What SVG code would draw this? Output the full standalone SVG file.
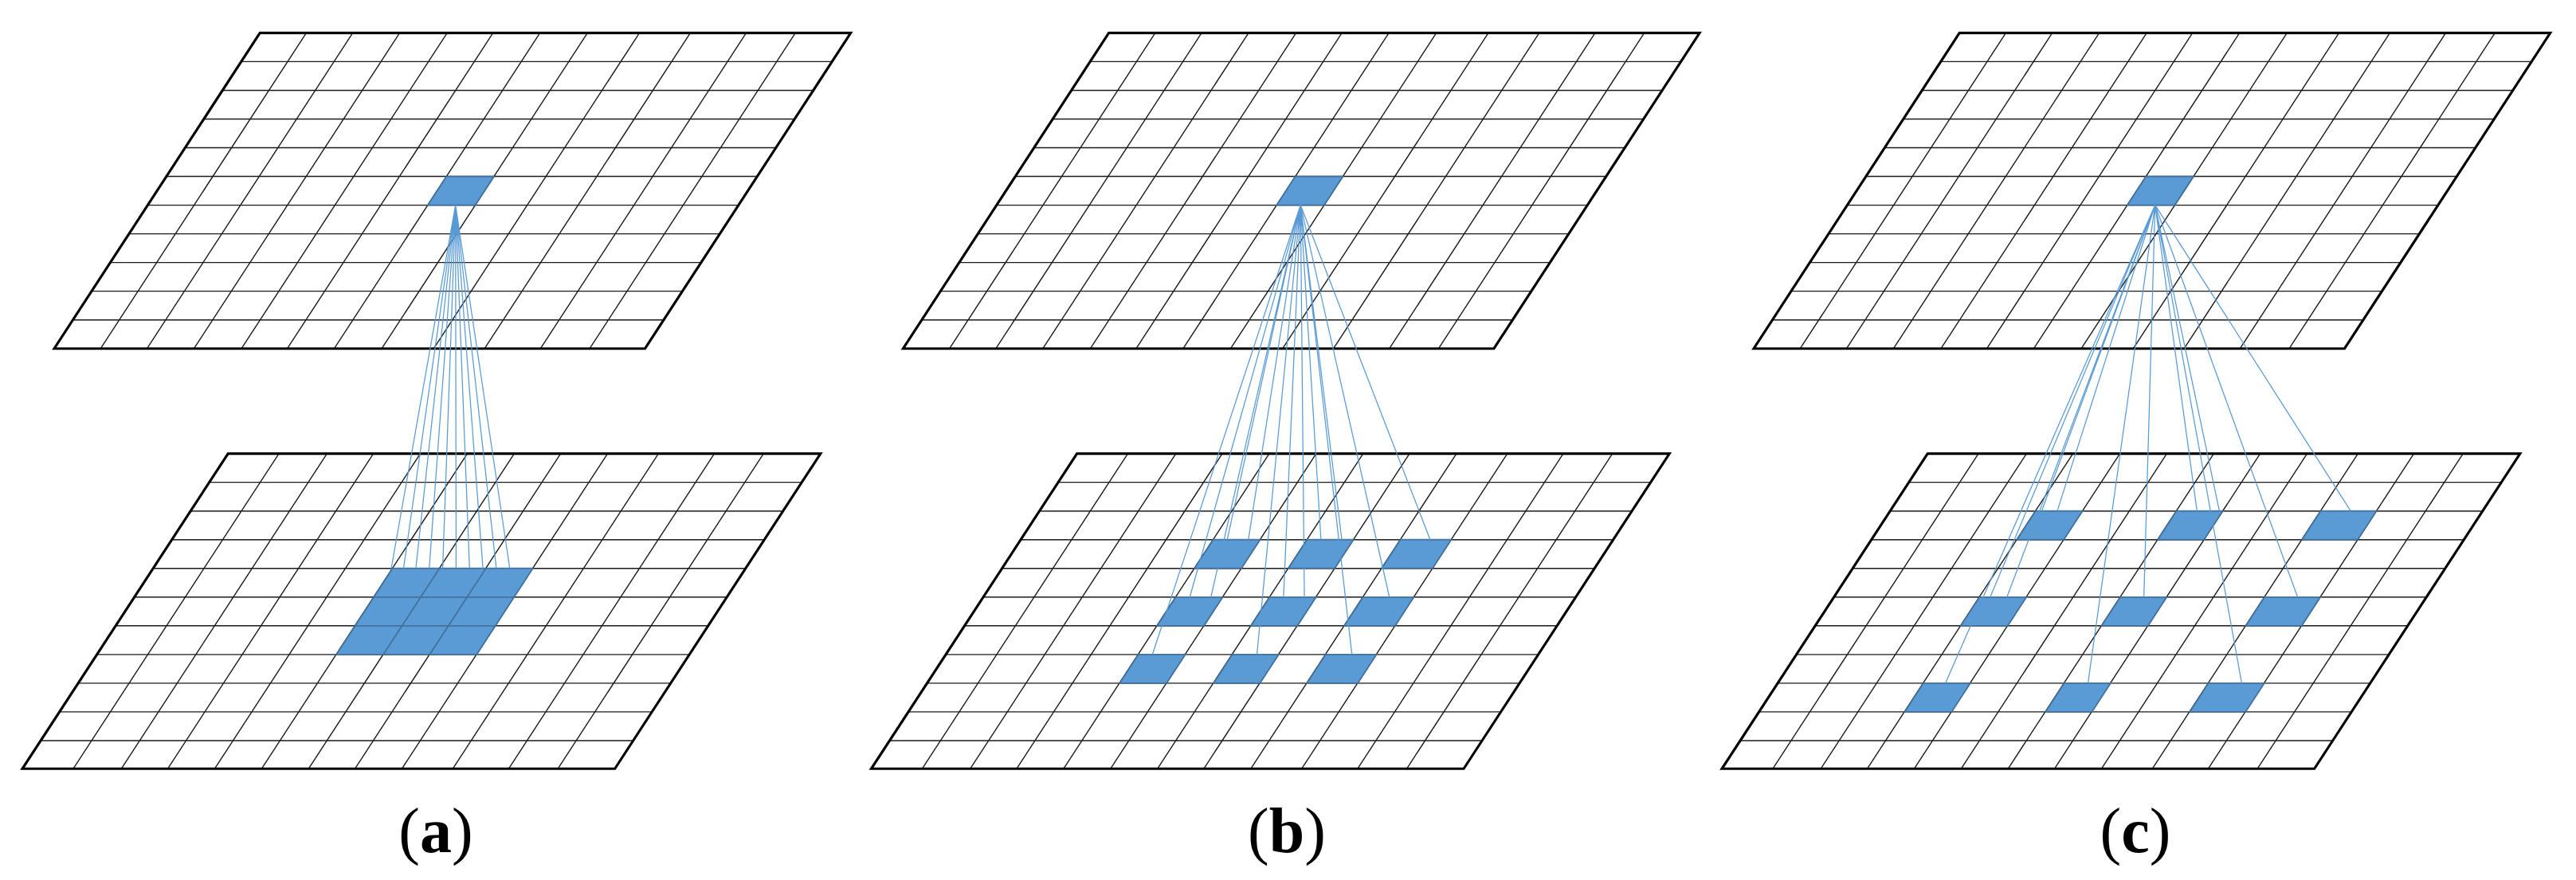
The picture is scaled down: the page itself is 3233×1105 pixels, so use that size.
<svg xmlns="http://www.w3.org/2000/svg" xmlns:xlink="http://www.w3.org/1999/xlink" width="3233" height="1105" viewBox="0 0 3233 1105">
<style>
.frame{fill:none;stroke:#000;stroke-width:4.5;stroke-linejoin:miter}
.in{stroke:#1a1a1a;stroke-width:2}
.cell{fill:#5B9BD5;stroke:#41719C;stroke-width:2.5}
.conn{stroke:#5B9BD5;stroke-width:1.8;fill:none}
.lbl{font-family:"Liberation Serif",serif;font-size:80px;text-anchor:middle;fill:#000}
</style>
<defs>
<g id="gridT">
<path class="in" d="M83,0L-285,565M166,0L-202,565M250,0L-118,565M335,0L-33,565M417,0L49,565M501,0L133,565M586,0L218,565M679,0L311,565M770,0L402,565M870,0L502,565M958,0L590,565
M-33.45,51.36H1023.55M-66.9,102.73H990.1M-100.35,154.09H956.65M-133.8,205.45H923.2M-167.25,256.82H889.75M-200.7,308.18H856.3M-234.15,359.55H822.85M-267.6,410.91H789.4M-301.05,462.27H755.95M-334.5,513.64H722.5"/>
<polygon class="frame" points="0,0 1057,0 689,565 -368,565"/>
</g>
<g id="gridB">
<path class="in" d="M91,0L-277,564M177,0L-191,564M260,0L-108,564M344,0L-24,564M428,0L60,564M512,0L144,564M595,0L227,564M679,0L311,564M770,0L402,564M870,0L502,564M958,0L590,564
M-33.45,51.36H1026.55M-66.9,102.73H993.1M-100.35,154.09H959.65M-133.8,205.45H926.2M-167.25,256.82H892.75M-200.7,308.18H859.3M-234.15,359.55H825.85M-267.6,410.91H792.4M-301.05,462.27H758.95M-334.5,513.64H725.5"/>
<polygon class="frame" points="0,0 1060,0 692,564 -368,564"/>
</g>
<polygon id="topcell" class="cell" points="798.7,315.8 883.7,315.8 850.3,367.2 765.3,367.2"/>
</defs>

<g id="panel-a" transform="scale(0.7015)">
<g id="a-top"><use xlink:href="#gridT" transform="translate(465,59)"/><use xlink:href="#topcell"/></g>
<g id="a-bottom"><use xlink:href="#gridB" transform="translate(408,812)"/>
<polygon class="cell" points="702.2,1017.45 953.2,1017.45 852.85,1171.5 601.85,1171.5"/>
<path stroke="#41719C" stroke-width="2.5" d="M786.2,1017.45L685.85,1171.5M869.2,1017.45L768.85,1171.5M668.7,1068.8H919.7M635.3,1120.2H886.3"/>
</g>
<g id="a-connectors" class="conn">
<path d="M815,367L700,1017.45M815,367L722,1017.45M815,367L744,1017.45M815,367L768,1017.45M815,367L792,1017.45M815,367L816,1017.45M815,367L840,1017.45M815,367L864,1017.45M815,367L888,1017.45M815,367L912,1017.45"/>
</g>
</g>

<g id="panel-b" transform="translate(1065.4,0) scale(0.7015)">
<g id="b-top"><use xlink:href="#gridT" transform="translate(465,59)"/><use xlink:href="#topcell"/></g>
<g id="b-bottom"><use xlink:href="#gridB" transform="translate(408,812)"/>
<polygon class="cell" points="651.65,966.08 735.65,966.08 702.2,1017.45 618.2,1017.45"/>
<polygon class="cell" points="819.65,966.08 902.65,966.08 869.2,1017.45 786.2,1017.45"/>
<polygon class="cell" points="986.65,966.08 1077.65,966.08 1044.2,1017.45 953.2,1017.45"/>
<polygon class="cell" points="584.7,1068.8 668.7,1068.8 635.3,1120.2 551.3,1120.2"/>
<polygon class="cell" points="752.7,1068.8 835.7,1068.8 802.3,1120.2 719.3,1120.2"/>
<polygon class="cell" points="919.7,1068.8 1010.7,1068.8 977.3,1120.2 886.3,1120.2"/>
<polygon class="cell" points="517.85,1171.5 601.85,1171.5 568.4,1222.9 484.4,1222.9"/>
<polygon class="cell" points="685.85,1171.5 768.85,1171.5 735.4,1222.9 652.4,1222.9"/>
<polygon class="cell" points="852.85,1171.5 943.85,1171.5 910.4,1222.9 819.4,1222.9"/>
</g>
<g id="b-connectors" class="conn">
<path d="M808,367L676.9,966.08M808,367L714.7,966.08M808,367L844.6,966.08M808,367L881.9,966.08M808,367L1040,966.08
M808,367L609.9,1068.8M808,367L647.7,1068.8M808,367L777.6,1068.8M808,367L814.9,1068.8M808,367L967,1068.8
M808,367L543.1,1171.5M808,367L730,1171.5M808,367L900,1171.5"/>
</g>
</g>

<g id="panel-c" transform="translate(2133,0) scale(0.7015)">
<g id="c-top"><use xlink:href="#gridT" transform="translate(465,59)"/><use xlink:href="#topcell"/></g>
<g id="c-bottom"><use xlink:href="#gridB" transform="translate(408,812)"/>
<polygon class="cell" points="601.1,914.7 685.1,914.7 651.65,966.08 567.65,966.08"/>
<polygon class="cell" points="853.1,914.7 936.1,914.7 902.65,966.08 819.65,966.08"/>
<polygon class="cell" points="1111.1,914.7 1211.1,914.7 1177.65,966.08 1077.65,966.08"/>
<polygon class="cell" points="500.7,1068.8 584.7,1068.8 551.3,1120.2 467.3,1120.2"/>
<polygon class="cell" points="752.7,1068.8 835.7,1068.8 802.3,1120.2 719.3,1120.2"/>
<polygon class="cell" points="1010.7,1068.8 1110.7,1068.8 1077.3,1120.2 977.3,1120.2"/>
<polygon class="cell" points="400.4,1222.9 484.4,1222.9 451,1274.3 367,1274.3"/>
<polygon class="cell" points="652.4,1222.9 735.4,1222.9 702,1274.3 619,1274.3"/>
<polygon class="cell" points="910.4,1222.9 1010.4,1222.9 977,1274.3 877,1274.3"/>
</g>
<g id="c-connectors" class="conn">
<path d="M815,367L612,914.7M815,367L640,914.7M815,367L890,914.7M815,367L930,914.7M815,367L1165,914.7
M815,367L520,1068.8M815,367L550,1068.8M815,367L795,1068.8M815,367L1070,1068.8
M815,367L440,1222.9M815,367L695,1222.9M815,367L970,1222.9"/>
</g>
</g>

<text class="lbl" x="547" y="1070">(<tspan font-weight="bold">a</tspan>)</text>
<text class="lbl" x="1615" y="1070">(<tspan font-weight="bold">b</tspan>)</text>
<text class="lbl" x="2680" y="1070">(<tspan font-weight="bold">c</tspan>)</text>
</svg>
